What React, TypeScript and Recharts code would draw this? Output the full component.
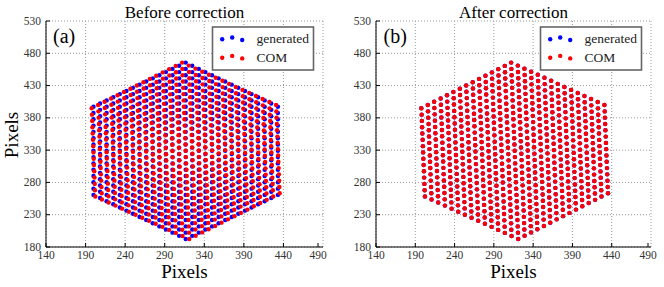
import React from "react";
import { CartesianGrid, Scatter, ScatterChart, XAxis, YAxis } from "recharts";

const xTicks = [140, 190, 240, 290, 340, 390, 440, 490];
const yTicks = [180, 230, 280, 330, 380, 430, 480, 530];

// generated spot grid: column centres, row levels (half pitch) and rows used per column
const colX = [
  200.0, 208.3, 216.6, 225.0, 233.3, 241.6, 249.9, 258.2, 266.6, 274.9, 283.2, 291.5, 299.8, 308.2, 316.5,
  324.8, 333.1, 341.4, 349.8, 358.1, 366.4, 374.7, 383.0, 391.4, 399.7, 408.0, 416.3, 424.6, 433.0,
];
const rowY = [
  192.4, 197.3, 202.2, 207.0, 211.9, 216.8, 221.7, 226.5, 231.4, 236.3, 241.2, 246.1, 250.9, 255.8, 260.7,
  265.6, 270.4, 275.3, 280.2, 285.1, 290.0, 294.8, 299.7, 304.6, 309.5, 314.4, 319.2, 324.1, 329.0, 333.9,
  338.7, 343.6, 348.5, 353.4, 358.3, 363.1, 368.0, 372.9, 377.8, 382.6, 387.5, 392.4, 397.3, 402.2, 407.0,
  411.9, 416.8, 421.7, 426.5, 431.4, 436.3, 441.2, 446.0, 450.9, 455.8, 460.7, 465.6,
];
const colStart = [14, 13, 12, 11, 10, 9, 8, 7, 6, 5, 4, 3, 2, 1, 0, 1, 2, 3, 4, 5, 6, 7, 8, 9, 10, 11, 12, 13, 14];
const colCount = [15, 16, 17, 18, 19, 20, 21, 22, 23, 24, 25, 26, 27, 28, 29, 28, 27, 26, 25, 24, 23, 22, 21, 20, 19, 18, 17, 16, 15];

// measured COM displacement from the generated grid
const comRowDX = [
  4.5, 4.3, 4.2, 4.0, 3.9, 3.7, 3.5, 3.4, 3.2, 3.1, 2.9, 2.7, 2.6, 2.4, 2.3, 2.1, 1.9, 1.8, 1.6, 1.4,
  1.3, 1.1, 1.0, 0.8, 0.6, 0.5, 0.3, 0.2, 0.0, -0.2, -0.3, -0.5, -0.6, -0.8, -1.0, -1.1, -1.3, -1.4, -1.6,
  -1.8, -1.9, -2.1, -2.3, -2.4, -2.6, -2.7, -2.9, -3.1, -3.2, -3.4, -3.5, -3.7, -3.9, -4.0, -4.2, -4.3, -4.5,
];
const comColDY = [
  -2.5, -2.3, -2.1, -2.0, -1.8, -1.6, -1.4, -1.3, -1.1, -0.9, -0.7, -0.5, -0.4, -0.2, 0.0, 0.2, 0.4, 0.5,
  0.7, 0.9, 1.1, 1.3, 1.4, 1.6, 1.8, 2.0, 2.1, 2.3, 2.5,
];

type Pt = { x: number; y: number };

const buildPoints = (com: boolean): Pt[] => {
  const pts: Pt[] = [];
  colX.forEach((cx, c) => {
    for (let k = 0; k < colCount[c]; k++) {
      const r = colStart[c] + 2 * k;
      pts.push({
        x: cx + (com ? comRowDX[r] : 0),
        y: rowY[r] + (com ? comColDY[c] : 0),
      });
    }
  });
  return pts;
};

const genBefore = buildPoints(false);
const comBefore = buildPoints(true);
const genAfter = buildPoints(true);
const comAfter = buildPoints(true);

const FONT = "'Liberation Serif', 'DejaVu Serif', serif";
const TICK_COLOR = "#333";

const dot = (fill: string) => (p: any) => <circle cx={p.cx} cy={p.cy} r={2.2} fill={fill} />;

const BottomTick = (p: any) => (
  <g>
    <line x1={p.x} x2={p.x} y1={p.y} y2={p.y - 4} stroke="#000" />
    <text x={p.x} y={p.y + 11.5} textAnchor="middle" fontSize={11.5} fontFamily={FONT} fill={TICK_COLOR}>
      {p.payload.value}
    </text>
  </g>
);
const LeftTick = (p: any) => (
  <g>
    <line x1={p.x} x2={p.x + 4} y1={p.y} y2={p.y} stroke="#000" />
    <text x={p.x - 5} y={p.y + 3.5} textAnchor="end" fontSize={11.5} fontFamily={FONT} fill={TICK_COLOR}>
      {p.payload.value}
    </text>
  </g>
);
const TopTick = (p: any) => <line x1={p.x} x2={p.x} y1={p.y} y2={p.y + 4} stroke="#000" />;
const RightTick = (p: any) => <line x1={p.x} x2={p.x - 4} y1={p.y} y2={p.y} stroke="#000" />;

function Panel({ gen, com, left, right }: { gen: Pt[]; com: Pt[]; left: number; right: number }) {
  return (
    <div style={{ position: "absolute", left, top: 0 }}>
      <ScatterChart width={330} height={287} margin={{ top: 21, right, bottom: 0, left: 0 }}>
        <CartesianGrid stroke="#999" strokeDasharray="1 2" />
        <XAxis
          type="number"
          dataKey="x"
          domain={[140, 490]}
          ticks={xTicks}
          height={40}
          tickSize={0}
          tickMargin={0}
          tickLine={false}
          axisLine={{ stroke: "#000" }}
          tick={BottomTick}
          allowDataOverflow
        />
        <XAxis
          xAxisId="top"
          orientation="top"
          type="number"
          domain={[140, 490]}
          ticks={xTicks}
          height={0}
          tickSize={0}
          tickMargin={0}
          tickLine={false}
          axisLine={{ stroke: "#000" }}
          tick={TopTick}
          allowDataOverflow
        />
        <YAxis
          type="number"
          dataKey="y"
          domain={[180, 530]}
          ticks={yTicks}
          width={46}
          tickSize={0}
          tickMargin={0}
          tickLine={false}
          axisLine={{ stroke: "#000" }}
          tick={LeftTick}
          allowDataOverflow
        />
        <YAxis
          yAxisId="right"
          orientation="right"
          type="number"
          domain={[180, 530]}
          ticks={yTicks}
          width={0}
          tickSize={0}
          tickMargin={0}
          tickLine={false}
          axisLine={{ stroke: "#000" }}
          tick={RightTick}
          allowDataOverflow
        />
        <Scatter data={gen} fill="#0000ff" shape={dot("#0000ff")} isAnimationActive={false} />
        <Scatter data={com} fill="#ff0000" shape={dot("#ff0000")} isAnimationActive={false} />
      </ScatterChart>
    </div>
  );
}

function Legend({ x }: { x: number }) {
  const dx = [9.7, 19.7, 29.7];
  const dy = [0, -1.8, 0.7];
  return (
    <g>
      <rect x={x} y={27} width={101} height={43} fill="#fff" stroke="#666" strokeWidth={1.6} />
      {dx.map((d, i) => (
        <circle key={"g" + i} cx={x + d} cy={39.3 + dy[i]} r={2.2} fill="#0000ff" />
      ))}
      {dx.map((d, i) => (
        <circle key={"c" + i} cx={x + d} cy={57.7 + dy[i]} r={2.2} fill="#ff0000" />
      ))}
      <text x={x + 44} y={42.5} fontSize={13.5} fontFamily={FONT} fill="#222">
        generated
      </text>
      <text x={x + 44} y={61.5} fontSize={13.5} fontFamily={FONT} fill="#222">
        COM
      </text>
    </g>
  );
}

export default function App() {
  return (
    <div style={{ position: "absolute", left: 0, top: 0, width: 664, height: 287, background: "#fff" }}>
      <Panel gen={genBefore} com={comBefore} left={0} right={7} />
      <Panel gen={genAfter} com={comAfter} left={330} right={9} />
      <svg
        width={664}
        height={287}
        style={{ position: "absolute", left: 0, top: 0, pointerEvents: "none" }}
        fontFamily={FONT}
      >
        <text x={184.5} y={17.5} textAnchor="middle" fontSize={17}>
          Before correction
        </text>
        <text x={513.5} y={17.5} textAnchor="middle" fontSize={17}>
          After correction
        </text>
        <text x={53} y={43} fontSize={20}>
          (a)
        </text>
        <text x={383.5} y={43} fontSize={20}>
          (b)
        </text>
        <text x={184.5} y={278} textAnchor="middle" fontSize={19}>
          Pixels
        </text>
        <text x={513.5} y={278} textAnchor="middle" fontSize={19}>
          Pixels
        </text>
        <text transform="translate(18,135) rotate(-90)" textAnchor="middle" fontSize={19}>
          Pixels
        </text>
        <Legend x={212.5} />
        <Legend x={540.5} />
      </svg>
    </div>
  );
}
